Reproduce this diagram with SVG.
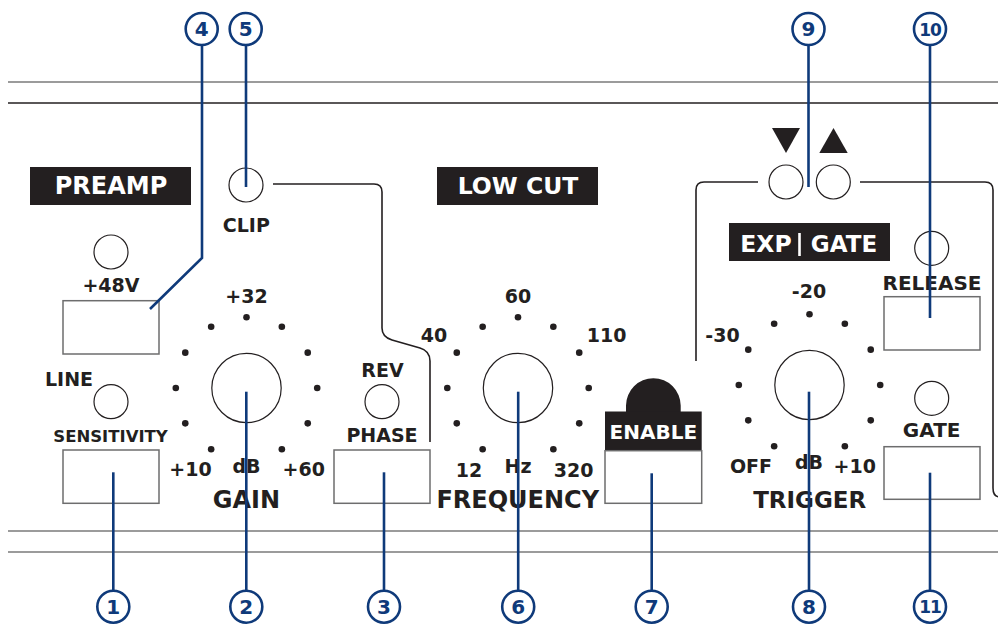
<svg xmlns="http://www.w3.org/2000/svg" xmlns:xlink="http://www.w3.org/1999/xlink" width="998" height="626" viewBox="0 0 998 626">
<style>
text{font-family:"DejaVu Sans","Liberation Sans",sans-serif;font-weight:bold;fill:#231f20;text-anchor:middle}
.t{font-size:19px}
.big{font-size:24px}
.w{fill:#ffffff}
.tag{fill:#231f20}
.box{fill:#ffffff;stroke:#6d6d6e;stroke-width:1.5}
.led{fill:#ffffff;stroke:#231f20;stroke-width:1.2}
.knob{fill:#ffffff;stroke:#231f20;stroke-width:1.2}
.rule{stroke:#7a7a7a;stroke-width:1.5;fill:none}
.dark{stroke:#231f20;stroke-width:1.6;fill:none}
.call{fill:#ffffff;stroke:#0f3a7a;stroke-width:2.6}
.num{fill:#0f3a7a;font-size:20px}
.lead{stroke:#0f3a7a;stroke-width:2.6;fill:none}
</style>
<defs>
<g id="dial" fill="#231f20">
<circle cx="0" cy="-70.7" r="3.3"/>
<circle cx="35.35" cy="-61.23" r="3.3"/><circle cx="-35.35" cy="-61.23" r="3.3"/>
<circle cx="61.23" cy="-35.35" r="3.3"/><circle cx="-61.23" cy="-35.35" r="3.3"/>
<circle cx="70.7" cy="0" r="3.3"/><circle cx="-70.7" cy="0" r="3.3"/>
<circle cx="61.23" cy="35.35" r="3.3"/><circle cx="-61.23" cy="35.35" r="3.3"/>
<circle cx="35.35" cy="61.23" r="3.3"/><circle cx="-35.35" cy="61.23" r="3.3"/>
<circle cx="0" cy="0" r="34.7" fill="#ffffff" stroke="#231f20" stroke-width="1.2"/>
</g>
</defs>
<rect width="998" height="626" fill="#ffffff"/>

<g id="panel">
<line class="rule" x1="8" y1="82" x2="998" y2="82"/>
<line class="dark" x1="8" y1="103" x2="998" y2="103"/>
<line class="rule" x1="8" y1="531" x2="998" y2="531"/>
<line class="rule" x1="8" y1="552" x2="998" y2="552"/>
<path class="dark" d="M273,184 H374 Q382,184 382,192 V328 Q382,337 392,340 L420,348 Q430,351 430,361 V442"/>
<path class="dark" d="M758,182 H704 Q696,182 696,190 V361"/>
<path class="dark" d="M860,182 H985 Q993,182 993,190 V488 Q993,497 1000,497"/>
</g>

<g id="preamp-label">
<rect class="tag" x="30" y="167" width="161" height="38"/>
<text class="big w" x="111" y="194">PREAMP</text>
</g>
<g id="lowcut-label">
<rect class="tag" x="437" y="167" width="161" height="38"/>
<text class="big w" x="518" y="194" style="font-size:23.5px">LOW CUT</text>
</g>
<g id="expgate-label">
<rect class="tag" x="729" y="223" width="161" height="38"/>
<text class="big w" x="766" y="252" style="font-size:23.5px">EXP</text>
<line x1="799.5" y1="233" x2="799.5" y2="256" stroke="#ffffff" stroke-width="2.6"/>
<text class="big w" x="844" y="252" style="font-size:23px">GATE</text>
</g>

<g id="phantom">
<circle class="led" cx="111" cy="252" r="17"/>
<text class="t" x="111" y="291.7">+48V</text>
<rect class="box" x="63" y="300.7" width="96" height="53.3"/>
</g>
<g id="sensitivity">
<text class="t" x="69" y="386">LINE</text>
<circle class="led" cx="111" cy="401.7" r="17"/>
<text class="t" x="110.5" y="441.7" style="font-size:16.5px">SENSITIVITY</text>
<rect class="box" x="63" y="450" width="96" height="53.3"/>
</g>
<g id="clip">
<circle class="led" cx="246" cy="185" r="17"/>
<text class="t" x="246.3" y="231.7">CLIP</text>
</g>
<g id="gain">
<use xlink:href="#dial" x="246.5" y="388"/>
<text class="t" x="246.5" y="302.7">+32</text>
<text class="t" x="190.5" y="476">+10</text>
<text class="t" x="246.5" y="473.3">dB</text>
<text class="t" x="303.7" y="476">+60</text>
<text class="big" x="246.5" y="508.3">GAIN</text>
</g>
<g id="phase">
<text class="t" x="382.5" y="377.3">REV</text>
<circle class="led" cx="382" cy="401.7" r="17"/>
<text class="t" x="382" y="441.7">PHASE</text>
<rect class="box" x="334" y="450" width="96" height="53.3"/>
</g>
<g id="frequency">
<use xlink:href="#dial" x="518" y="388"/>
<text class="t" x="518" y="302.7">60</text>
<text class="t" x="434" y="341.7">40</text>
<text class="t" x="606.7" y="341.7">110</text>
<text class="t" x="469" y="476.7">12</text>
<text class="t" x="518" y="473.3">Hz</text>
<text class="t" x="573.7" y="476.7">320</text>
<text class="big" x="517.7" y="508.3">FREQUENCY</text>
</g>
<g id="enable">
<path class="tag" d="M626,412 V405.6 A27.3,27.3 0 0 1 680.7,405.6 V412 Z"/>
<rect class="tag" x="605" y="411.5" width="96.7" height="39.5"/>
<text class="t w" x="653.3" y="439" style="font-size:20px">ENABLE</text>
<rect class="box" x="605" y="450.7" width="96.7" height="52.6"/>
</g>
<g id="detectors">
<polygon class="tag" points="772,128 800,128 786,153"/>
<polygon class="tag" points="819.3,153 847.7,153 833.5,128"/>
<circle class="led" cx="786" cy="182" r="17"/>
<circle class="led" cx="833.3" cy="182" r="17"/>
</g>
<g id="trigger">
<use xlink:href="#dial" x="809.5" y="385"/>
<text class="t" x="809" y="298.3">-20</text>
<text class="t" x="722.5" y="341.7">-30</text>
<text class="t" x="751" y="472.7">OFF</text>
<text class="t" x="809" y="469.3">dB</text>
<text class="t" x="854.7" y="472.7">+10</text>
<text class="big" x="809.7" y="508.3" style="font-size:23px">TRIGGER</text>
</g>
<g id="release">
<circle class="led" cx="931.7" cy="248.3" r="17"/>
<text class="t" x="932" y="290" style="font-size:20px">RELEASE</text>
<rect class="box" x="884" y="296.7" width="96" height="53.3"/>
</g>
<g id="gate">
<circle class="led" cx="931.7" cy="398.3" r="17"/>
<text class="t" x="931.7" y="437.3" style="font-size:20px">GATE</text>
<rect class="box" x="884" y="446.7" width="96" height="52.6"/>
</g>

<g id="connectors">
<polyline class="lead" points="202,45 202,258 150,309"/>
<line class="lead" x1="246" y1="45" x2="246" y2="187"/>
<line class="lead" x1="808.5" y1="45" x2="808.5" y2="187"/>
<line class="lead" x1="930" y1="45" x2="930" y2="318"/>
<line class="lead" x1="113.3" y1="472.3" x2="113.3" y2="590.7"/>
<line class="lead" x1="246.3" y1="391.7" x2="246.3" y2="590.7"/>
<line class="lead" x1="384" y1="472.3" x2="384" y2="590.7"/>
<line class="lead" x1="518.2" y1="391.7" x2="518.2" y2="590.7"/>
<line class="lead" x1="651.7" y1="473.3" x2="651.7" y2="590.7"/>
<line class="lead" x1="809" y1="391.7" x2="809" y2="590.7"/>
<line class="lead" x1="930" y1="472.7" x2="930" y2="590.7"/>
</g>

<g id="callout-4"><circle class="call" cx="201.7" cy="29" r="16"/><text class="num" x="201.7" y="36.2">4</text></g>
<g id="callout-5"><circle class="call" cx="245.7" cy="29" r="16"/><text class="num" x="245.7" y="36.2">5</text></g>
<g id="callout-9"><circle class="call" cx="808.5" cy="29" r="16"/><text class="num" x="808.5" y="36.2">9</text></g>
<g id="callout-10"><circle class="call" cx="930" cy="29" r="16"/><text class="num" x="930" y="35.6" style="font-size:17px;letter-spacing:-1px">10</text></g>
<g id="callout-1"><circle class="call" cx="113.3" cy="606.7" r="16"/><text class="num" x="113.3" y="613.9">1</text></g>
<g id="callout-2"><circle class="call" cx="246.3" cy="606.7" r="16"/><text class="num" x="246.3" y="613.9">2</text></g>
<g id="callout-3"><circle class="call" cx="384" cy="606.7" r="16"/><text class="num" x="384" y="613.9">3</text></g>
<g id="callout-6"><circle class="call" cx="518.2" cy="606.7" r="16"/><text class="num" x="518.2" y="613.9">6</text></g>
<g id="callout-7"><circle class="call" cx="651.7" cy="606.7" r="16"/><text class="num" x="651.7" y="613.9">7</text></g>
<g id="callout-8"><circle class="call" cx="809" cy="606.7" r="16"/><text class="num" x="809" y="613.9">8</text></g>
<g id="callout-11"><circle class="call" cx="930" cy="606.7" r="16"/><text class="num" x="930" y="613.3" style="font-size:17px;letter-spacing:-1px">11</text></g>
</svg>
